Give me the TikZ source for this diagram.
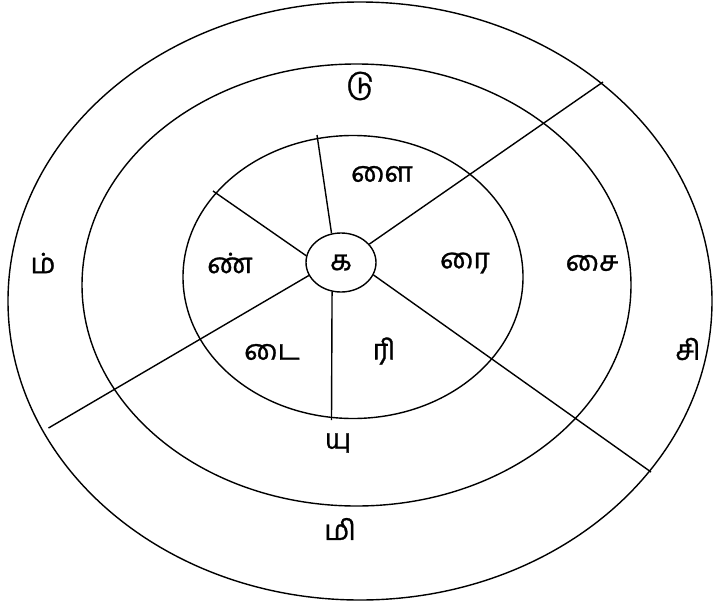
\documentclass[tikz,border=0pt]{standalone}
\usepackage{fontspec}
\newfontfamily\tamil[Script=Tamil, FakeBold=1]{Hind Madurai}
\usetikzlibrary{shapes.geometric}

\begin{document}
\begin{tikzpicture}[
    x=1pt, y=-1pt,
    ring/.style={ellipse, draw=black, line width=1.4pt, inner sep=0pt},
    spoke/.style={draw=black, line width=1.4pt},
    lbl/.style={font=\tamil\fontsize{28}{30}\selectfont, inner sep=0pt}
]
\useasboundingbox (0,0) rectangle (714,605);

% rings
\node[ring, minimum width=704pt, minimum height=598pt] (outer) at (360,301) {};
\node[ring, minimum width=549pt, minimum height=442pt] (middle) at (356.5,285) {};
\node[ring, minimum width=340pt, minimum height=283pt] (inner) at (353,277) {};
\node[ring, lbl, minimum width=70pt, minimum height=59pt] (core) at (341,262.5) {க};

% free ends of the spokes
\coordinate (tn) at (317,135);
\coordinate (tnw) at (213,191);
\coordinate (tsw) at (48.5,428);
\coordinate (ts) at (331.5,420);
\coordinate (tse) at (651,472);
\coordinate (tne) at (603,82);

\draw[spoke] (core.108) -- (tn);
\draw[spoke] (core.169) -- (tnw);
\draw[spoke] (core.202) -- (tsw);
\draw[spoke] (core.253) -- (ts);
\draw[spoke] (core.339) -- (tse);
\draw[spoke] (core.33) -- (tne);

% labels
\node[lbl] (l1) at (382,174) {ளை};
\node[lbl] (l2) at (230,263) {ண்};
\node[lbl] (l3) at (465,263) {ரை};
\node[lbl] (l4) at (272,352) {டை};
\node[lbl] (l5) at (384,351) {ரி};
\node[lbl] (l6) at (338,443) {யு};
\node[lbl] (l7) at (340,529) {மி};
\node[lbl] (l8) at (360,86) {டு};
\node[lbl] (l9) at (43,263) {ம்};
\node[lbl] (l10) at (592,263) {சை};
\node[lbl] (l11) at (688,349) {சி};
\end{tikzpicture}
\end{document}
